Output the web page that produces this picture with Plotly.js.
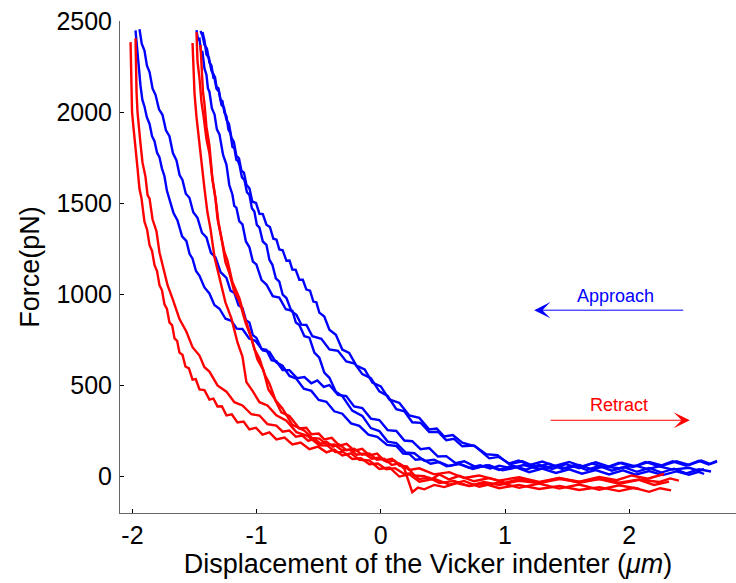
<!DOCTYPE html>
<html>
<head>
<meta charset="utf-8">
<script src="https://cdn.plot.ly/plotly-3.0.1.min.js"></script>
<style>html,body{margin:0;padding:0;background:#fff;}#chart{width:736px;height:583px;}</style>
</head>
<body>
<div id="chart"></div>
<script>
// ---- Approach curves (blue) ----
const approach1X = [-1.975,-1.966,-1.957,-1.946,-1.935,-1.920,-1.903,-1.884,-1.862,-1.842,-1.822,-1.802,-1.782,-1.762,-1.742,-1.722,-1.702,-1.670,-1.637,-1.600,-1.565,-1.540,-1.516,-1.488,-1.460,-1.420,-1.380,-1.340,-1.299,-1.250,-1.203,-1.160,-1.114,-1.060,-1.010,-0.950,-0.897,-0.845,-0.792,-0.735,-0.680,-0.620,-0.559,-0.500,-0.438,-0.375,-0.310,-0.240,-0.173,-0.100,-0.028,0.050,0.125,0.180,0.229,0.280,0.334,0.400,0.471,0.550,0.630,0.712,0.800,0.880,0.953,1.050,1.150,1.275,1.400,1.500,1.597,1.700,1.800,1.919,2.050,2.150,2.240,2.350,2.482,2.560,2.603];
const approach1Y = [2449,2372,2310,2218,2145,2068,2031,1972,1935,1868,1840,1778,1752,1690,1648,1568,1525,1448,1405,1318,1292,1222,1196,1128,1102,1038,1005,942,921,866,855,812,810,758,745,692,684,628,608,552,537,482,470,420,410,358,345,292,278,230,218,174,168,126,124,92,96,70,80,58,70,48,62,44,60,46,63,42,58,45,64,40,55,46,60,41,56,38,48,32,40];

const approach2X = [-1.943,-1.925,-1.903,-1.883,-1.862,-1.838,-1.814,-1.786,-1.758,-1.730,-1.702,-1.674,-1.645,-1.620,-1.597,-1.570,-1.541,-1.510,-1.476,-1.440,-1.404,-1.368,-1.331,-1.290,-1.243,-1.210,-1.179,-1.146,-1.114,-1.086,-1.058,-1.030,-1.002,-0.960,-0.921,-0.880,-0.841,-0.790,-0.736,-0.675,-0.615,-0.560,-0.511,-0.460,-0.414,-0.345,-0.278,-0.215,-0.149,-0.080,-0.012,0.055,0.125,0.190,0.253,0.320,0.390,0.460,0.527,0.600,0.672,0.770,0.873,0.980,1.090,1.195,1.300,1.410,1.517,1.620,1.730,1.838,1.950,2.050,2.160,2.270,2.380,2.482,2.560,2.603];
const approach2Y = [2455,2375,2338,2255,2220,2130,2095,2015,1985,1900,1868,1775,1735,1655,1628,1552,1530,1450,1420,1338,1312,1228,1202,1122,1090,1020,1008,940,925,858,845,775,762,700,695,638,633,585,584,540,546,512,528,492,502,448,442,385,376,318,310,255,250,198,194,150,156,110,112,74,84,50,62,34,50,24,44,20,40,16,36,12,34,10,30,8,28,10,26,14];

const approach3X = [-1.484,-1.472,-1.460,-1.448,-1.436,-1.420,-1.404,-1.392,-1.380,-1.360,-1.339,-1.320,-1.299,-1.270,-1.243,-1.220,-1.195,-1.180,-1.163,-1.140,-1.114,-1.086,-1.058,-1.030,-1.002,-0.960,-0.921,-0.870,-0.817,-0.765,-0.712,-0.684,-0.656,-0.615,-0.575,-0.535,-0.495,-0.455,-0.414,-0.362,-0.310,-0.230,-0.149,-0.080,-0.012,0.055,0.125,0.200,0.270,0.350,0.431,0.530,0.632,0.740,0.850,0.953,1.060,1.170,1.275,1.380,1.490,1.597,1.700,1.810,1.919,2.030,2.130,2.240,2.350,2.460,2.562,2.640,2.707];
const approach3Y = [2450,2398,2402,2335,2330,2240,2205,2130,2112,2020,1988,1905,1878,1765,1712,1600,1548,1485,1476,1402,1384,1290,1258,1180,1164,1078,1054,990,982,918,910,845,832,770,762,680,652,570,542,466,442,362,333,266,250,192,184,132,128,86,92,56,70,42,62,36,60,38,64,42,68,46,72,48,76,52,80,56,84,60,86,66,82];

const approach4X = [-1.452,-1.436,-1.420,-1.400,-1.380,-1.364,-1.348,-1.335,-1.323,-1.307,-1.291,-1.275,-1.259,-1.243,-1.227,-1.211,-1.195,-1.179,-1.163,-1.150,-1.138,-1.118,-1.098,-1.078,-1.058,-1.038,-1.018,-0.998,-0.977,-0.950,-0.921,-0.897,-0.873,-0.845,-0.817,-0.790,-0.760,-0.720,-0.680,-0.640,-0.599,-0.551,-0.479,-0.414,-0.345,-0.278,-0.210,-0.149,-0.080,-0.012,0.055,0.125,0.190,0.253,0.320,0.390,0.460,0.527,0.590,0.656,0.750,0.849,0.940,1.034,1.140,1.250,1.356,1.460,1.560,1.658,1.758,1.860,1.960,2.060,2.160,2.260,2.360,2.460,2.562,2.659];
const approach4Y = [2445,2420,2370,2348,2272,2256,2190,2192,2140,2130,2068,2060,1996,1978,1904,1885,1810,1802,1738,1732,1710,1642,1628,1560,1546,1472,1454,1381,1366,1290,1272,1190,1162,1088,1070,998,980,908,888,834,832,770,756,698,690,632,620,562,540,468,442,370,358,298,295,244,246,200,207,166,170,122,118,68,84,52,70,42,63,36,58,32,52,26,47,22,43,18,40,28];

const approach5X = [-1.436,-1.420,-1.404,-1.384,-1.364,-1.344,-1.323,-1.303,-1.283,-1.263,-1.243,-1.223,-1.203,-1.183,-1.163,-1.142,-1.122,-1.102,-1.082,-1.058,-1.034,-1.005,-0.977,-0.950,-0.921,-0.893,-0.865,-0.840,-0.817,-0.790,-0.760,-0.735,-0.712,-0.685,-0.656,-0.628,-0.599,-0.570,-0.543,-0.519,-0.495,-0.455,-0.414,-0.362,-0.310,-0.255,-0.197,-0.130,-0.068,0.000,0.068,0.150,0.229,0.310,0.390,0.450,0.511,0.580,0.656,0.760,0.873,0.950,1.034,1.110,1.195,1.300,1.400,1.517,1.620,1.730,1.838,1.940,2.050,2.160,2.270,2.380,2.482,2.580,2.650,2.707];
const approach5Y = [2440,2395,2316,2298,2228,2204,2128,2112,2040,2026,1958,1936,1860,1836,1760,1746,1678,1668,1602,1582,1508,1502,1442,1440,1382,1370,1305,1300,1246,1242,1184,1186,1136,1134,1080,1080,1026,1020,960,956,900,878,806,778,697,678,609,588,516,495,423,404,335,322,258,264,220,228,186,166,100,108,72,88,62,82,58,80,56,78,54,76,56,80,60,84,64,88,70,86];

// ---- Retract curves (red) ----
const retract1X = [-2.015,-2.011,-2.003,-1.991,-1.975,-1.959,-1.943,-1.927,-1.903,-1.882,-1.862,-1.842,-1.822,-1.802,-1.782,-1.762,-1.742,-1.722,-1.702,-1.680,-1.661,-1.640,-1.621,-1.597,-1.573,-1.545,-1.516,-1.490,-1.460,-1.420,-1.380,-1.348,-1.315,-1.280,-1.243,-1.200,-1.154,-1.105,-1.058,-1.005,-0.953,-0.897,-0.841,-0.775,-0.712,-0.645,-0.575,-0.505,-0.438,-0.375,-0.310,-0.240,-0.173,-0.092,-0.012,0.070,0.149,0.230,0.310,0.430,0.551,0.670,0.792,0.950,1.114,1.275,1.436,1.597,1.758,1.920,2.080];
const retract1Y = [2384,2190,2000,1912,1780,1692,1578,1528,1398,1356,1270,1238,1160,1128,1050,1022,945,920,846,830,758,745,680,668,604,594,532,535,478,474,422,428,385,386,336,342,297,302,259,268,230,242,204,214,176,187,150,164,133,148,116,128,92,88,42,50,0,12,-28,-12,-44,-24,-56,-32,-62,-38,-66,-44,-72,-48,-68];

const retract2X = [-1.975,-1.971,-1.967,-1.959,-1.951,-1.943,-1.935,-1.919,-1.895,-1.878,-1.862,-1.838,-1.806,-1.782,-1.758,-1.717,-1.677,-1.621,-1.565,-1.516,-1.460,-1.420,-1.380,-1.315,-1.243,-1.179,-1.114,-1.042,-0.977,-0.913,-0.841,-0.790,-0.736,-0.684,-0.632,-0.584,-0.535,-0.486,-0.438,-0.386,-0.334,-0.274,-0.213,-0.152,-0.092,-0.032,0.028,0.088,0.149,0.230,0.310,0.430,0.551,0.670,0.792,0.950,1.114,1.275,1.436,1.597,1.758,1.920,2.080,2.200,2.321];
const retract2Y = [2406,2222,2112,2000,1926,1858,1828,1724,1646,1545,1525,1412,1345,1230,1158,1050,976,864,795,710,664,600,576,500,466,408,390,342,335,288,280,246,252,219,225,196,208,180,192,164,176,144,153,120,126,92,98,64,72,36,45,12,24,-8,6,-22,-4,-30,-8,-34,-14,-40,-18,-46,-28];

const retract3X = [-1.516,-1.508,-1.500,-1.484,-1.468,-1.444,-1.420,-1.396,-1.372,-1.339,-1.299,-1.251,-1.203,-1.154,-1.114,-1.082,-1.034,-0.977,-0.913,-0.841,-0.760,-0.680,-0.591,-0.495,-0.430,-0.366,-0.300,-0.229,-0.160,-0.092,-0.024,0.044,0.115,0.189,0.250,0.310,0.390,0.471,0.590,0.712,0.830,0.953,1.110,1.275,1.440,1.597,1.760,1.919,2.040,2.160,2.250,2.337];
const retract3Y = [2379,2222,2102,1972,1874,1698,1582,1450,1362,1204,1088,956,868,736,658,518,472,408,390,336,306,244,224,172,170,134,134,96,100,68,72,40,46,14,18,-14,-6,-36,-24,-52,-38,-64,-46,-68,-52,-74,-58,-80,-62,-84,-64,-76];

const retract4X = [-1.484,-1.476,-1.460,-1.444,-1.428,-1.404,-1.380,-1.356,-1.331,-1.307,-1.283,-1.251,-1.219,-1.179,-1.138,-1.090,-1.042,-0.994,-0.945,-0.905,-0.857,-0.801,-0.736,-0.656,-0.600,-0.559,-0.500,-0.455,-0.395,-0.334,-0.275,-0.213,-0.150,-0.092,-0.030,0.028,0.090,0.149,0.210,0.270,0.350,0.410,0.471,0.550,0.632,0.750,0.873,1.000,1.114,1.270,1.436,1.600,1.758,1.900,2.020,2.150,2.280];
const retract4Y = [2439,2278,2186,2055,1982,1852,1774,1632,1527,1396,1308,1176,1116,1012,962,846,760,644,584,478,430,352,332,264,268,232,236,204,212,170,180,142,152,116,126,88,98,60,56,6,2,-14,12,-16,4,-26,-8,-34,-14,-36,-8,-28,-2,-20,6,-12,14];

const retract5X = [-1.452,-1.444,-1.432,-1.420,-1.404,-1.380,-1.356,-1.331,-1.315,-1.291,-1.259,-1.235,-1.195,-1.138,-1.098,-1.058,-1.018,-0.977,-0.937,-0.897,-0.849,-0.792,-0.712,-0.615,-0.555,-0.495,-0.435,-0.374,-0.313,-0.253,-0.193,-0.133,-0.072,-0.012,0.050,0.109,0.189,0.253,0.300,0.350,0.430,0.511,0.610,0.712,0.830,0.953,1.110,1.275,1.440,1.597,1.760,1.919,2.080,2.240,2.330,2.400];
const retract5Y = [2368,2240,2112,2048,1920,1818,1634,1526,1414,1334,1232,1186,1068,978,876,797,700,648,563,511,420,374,284,252,212,208,174,176,144,148,120,126,98,104,80,88,44,-86,-60,-70,-46,-58,-36,-52,-30,-46,-24,-36,-14,-30,-12,-34,-16,-30,-10,-22];

// ---- Axes and annotations ----
const xTickVals = [-2, -1, 0, 1, 2];
const xTickText = ['-2', '-1', '0', '1', '2'];
const yTickVals = [0, 500, 1000, 1500, 2000, 2500];
const yTickText = ['0', '500', '1000', '1500', '2000', '2500'];
const approachLabel = 'Approach';
const retractLabel = 'Retract';

const FONT = 'Liberation Sans, Arial, Helvetica, sans-serif';
const BLUE = '#0000ff';
const RED = '#ff0000';

const approachSets = [
  [approach1X, approach1Y], [approach2X, approach2Y], [approach3X, approach3Y],
  [approach4X, approach4Y], [approach5X, approach5Y]
];
const retractSets = [
  [retract1X, retract1Y], [retract2X, retract2Y], [retract3X, retract3Y],
  [retract4X, retract4Y], [retract5X, retract5Y]
];

const traces = [];
approachSets.forEach(function (s) {
  traces.push({x: s[0], y: s[1], type: 'scatter', mode: 'lines',
    line: {color: BLUE, width: 2.4}, hoverinfo: 'skip', showlegend: false});
});
retractSets.forEach(function (s) {
  traces.push({x: s[0], y: s[1], type: 'scatter', mode: 'lines',
    line: {color: RED, width: 2.4}, hoverinfo: 'skip', showlegend: false});
});

const layout = {
  width: 736, height: 583,
  margin: {l: 120, r: 0, t: 21, b: 70, pad: 0},
  paper_bgcolor: '#ffffff', plot_bgcolor: '#ffffff',
  showlegend: false,
  font: {family: FONT, color: '#000'},
  xaxis: {
    range: [-2.1, 2.86], tickvals: xTickVals, ticktext: xTickText,
    ticks: 'inside', ticklen: 4, tickwidth: 1, tickcolor: '#000',
    showline: true, linecolor: '#666', linewidth: 1, mirror: false,
    showgrid: false, zeroline: false,
    tickfont: {family: FONT, size: 25, color: '#000'},
    ticklabelstandoff: 0,
    title: {text: 'Displacement of the Vicker indenter (<i>μm</i>)',
      font: {family: FONT, size: 27, color: '#000'}, standoff: 2}
  },
  yaxis: {
    range: [-200, 2500], tickvals: yTickVals, ticktext: yTickText,
    ticks: 'inside', ticklen: 4, tickwidth: 1, tickcolor: '#000',
    showline: true, linecolor: '#666', linewidth: 1, mirror: false,
    showgrid: false, zeroline: false,
    tickfont: {family: FONT, size: 25, color: '#000'},
    ticklabelstandoff: 2,
    title: {text: 'Force(pN)', font: {family: FONT, size: 27, color: '#000'}, standoff: 8}
  },
  annotations: [
    {xref: 'x', yref: 'y', axref: 'x', ayref: 'y', x: 1.235, y: 913, ax: 2.447, ay: 913,
      text: '', showarrow: true, arrowhead: 3, arrowsize: 2.7, arrowwidth: 1, arrowcolor: BLUE},
    {xref: 'x', yref: 'y', x: 1.892, y: 992, text: approachLabel, showarrow: false,
      font: {family: FONT, size: 18, color: BLUE}},
    {xref: 'x', yref: 'y', axref: 'x', ayref: 'y', x: 2.488, y: 309, ax: 1.356, ay: 309,
      text: '', showarrow: true, arrowhead: 3, arrowsize: 2.7, arrowwidth: 1, arrowcolor: RED},
    {xref: 'x', yref: 'y', x: 1.919, y: 392, text: retractLabel, showarrow: false,
      font: {family: FONT, size: 18, color: RED}}
  ]
};

Plotly.newPlot('chart', traces, layout, {displayModeBar: false, staticPlot: true});
</script>
</body>
</html>
